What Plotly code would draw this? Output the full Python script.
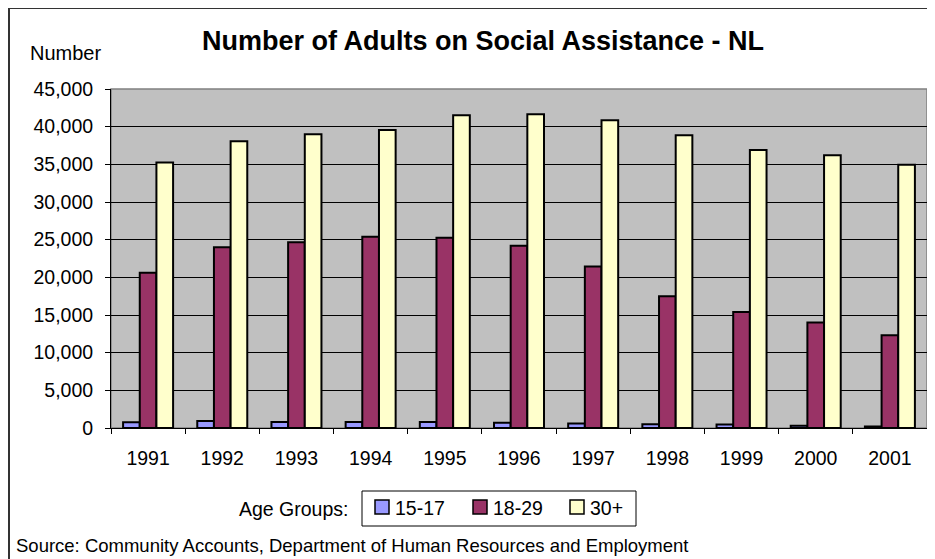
import plotly.graph_objects as go

years = ["1991", "1992", "1993", "1994", "1995", "1996", "1997", "1998", "1999", "2000", "2001"]
age_15_17 = [750, 930, 800, 800, 800, 700, 600, 500, 450, 300, 200]
age_18_29 = [20600, 24000, 24650, 25400, 25250, 24200, 21450, 17500, 15400, 14000, 12300]
age_30_plus = [35250, 38050, 39000, 39550, 41500, 41650, 40850, 38850, 36900, 36200, 34950]
y_ticks = [0, 5000, 10000, 15000, 20000, 25000, 30000, 35000, 40000, 45000]
series_names = ["15-17", "18-29", "30+"]
series_colors = ["#9999FF", "#993366", "#FFFFCC"]

FONT = "Liberation Sans, Arial, sans-serif"
# page has an 8px body margin -> figure is 927x551, plot area 816x339
W, H = 927, 551
L, R, T, B = 103, 8, 81, 131
PW, PH = W - L - R, H - T - B


def px(x):  # figure x pixel -> paper
    return (x - L) / PW


def py(y):  # figure y pixel -> paper
    return (H - B - y) / PH


fig = go.Figure()
for name, vals, col in zip(series_names, [age_15_17, age_18_29, age_30_plus], series_colors):
    fig.add_trace(go.Bar(x=years, y=vals, name=name,
                         marker=dict(color=col, line=dict(color="black", width=2))))

fig.update_layout(
    width=W, height=H,
    margin=dict(l=L, r=R, t=T, b=B),
    paper_bgcolor="white", plot_bgcolor="#C0C0C0",
    barmode="group", bargap=0.326, bargroupgap=0,
    font=dict(family=FONT, size=19.5, color="black"),
    title=dict(text="<b>Number of Adults on Social Assistance - NL</b>", x=475 / W, xanchor="center",
               y=1 - 33 / H, yanchor="middle", font=dict(size=27, family=FONT)),
    showlegend=False,
)
fig.update_yaxes(range=[0, 45000], tickvals=y_ticks, tickformat=",d",
                 showgrid=True, gridcolor="black", gridwidth=1,
                 ticks="outside", ticklen=5, tickcolor="black", ticklabelstandoff=8,
                 showline=True, linecolor="black", linewidth=1, zeroline=False)
fig.update_xaxes(type="category", tickson="boundaries", ticks="outside", ticklen=5, tickcolor="black",
                 ticklabelstandoff=13,
                 showline=True, linecolor="black", linewidth=1)

# gray plot-area frame (top/right)
fig.add_shape(type="rect", xref="paper", yref="paper", x0=0, x1=1, y0=0, y1=1,
              line=dict(color="#808080", width=1.5), layer="below")
# outer chart border (left and top edges)
fig.add_shape(type="line", xref="paper", yref="paper", x0=px(1), x1=px(1), y0=py(H), y1=py(0),
              line=dict(color="#333333", width=2))
fig.add_shape(type="line", xref="paper", yref="paper", x0=px(0), x1=px(W), y0=py(0), y1=py(0),
              line=dict(color="#333333", width=2))

# legend box
fig.add_shape(type="rect", xref="paper", yref="paper", x0=px(354), x1=px(628), y0=py(518), y1=py(483),
              line=dict(color="black", width=1), fillcolor="white")
swatch_x = [367, 465, 562]
for sx, name, col in zip(swatch_x, series_names, series_colors):
    fig.add_shape(type="rect", xref="paper", yref="paper", x0=px(sx), x1=px(sx + 14),
                  y0=py(506), y1=py(492), line=dict(color="black", width=1.5), fillcolor=col)
    fig.add_annotation(text=name, xref="paper", yref="paper", x=px(sx + 18), y=py(500),
                       xanchor="left", yanchor="middle", showarrow=False, font=dict(size=19.5))

fig.add_annotation(text="Number", xref="paper", yref="paper", x=px(57.5), y=py(45),
                   xanchor="center", yanchor="middle", showarrow=False, font=dict(size=20))
fig.add_annotation(text="Age Groups:", xref="paper", yref="paper", x=px(342), y=py(501),
                   xanchor="right", yanchor="middle", showarrow=False, font=dict(size=19.5))
fig.add_annotation(text="Source: Community Accounts, Department of Human Resources and Employment",
                   xref="paper", yref="paper", x=px(6), y=py(537),
                   xanchor="left", yanchor="middle", showarrow=False, font=dict(size=18.5))

fig.write_html("out.html")
